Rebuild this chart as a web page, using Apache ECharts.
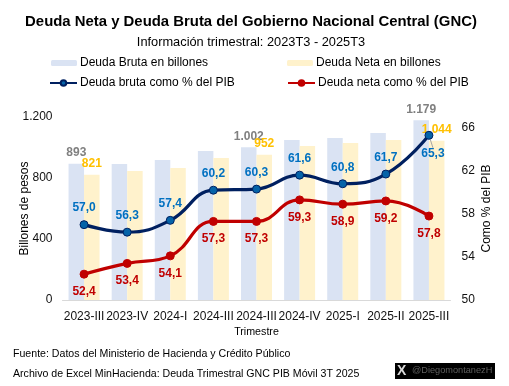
<!DOCTYPE html>
<html lang="es">
<head>
<meta charset="UTF-8">
<title>Deuda GNC</title>
<script src="https://cdn.jsdelivr.net/npm/echarts@6/dist/echarts.min.js"></script>
<style>
  html, body { margin: 0; padding: 0; background: #fff; }
  #chart { width: 509px; height: 386px; }
</style>
</head>
<body>
<div id="chart"></div>
<script>
var categories = ['2023-III', '2023-IV', '2024-I', '2024-III', '2024-III', '2024-IV', '2025-I', '2025-II', '2025-III'];
var deudaBruta = [893, 892, 918, 977, 1002, 1049, 1062, 1095, 1179];
var deudaNeta = [821, 846, 865, 931, 952, 1010, 1030, 1049, 1044];
var brutaPib = [57.0, 56.3, 57.4, 60.2, 60.3, 61.6, 60.8, 61.7, 65.3];
var netaPib = [52.4, 53.4, 54.1, 57.3, 57.3, 59.3, 58.9, 59.2, 57.8];
var barLabelIdx = [0, 4, 8];
var font = '"Liberation Sans", Arial, sans-serif';

// 1.200 / 57,0 formato colombiano
function miles(v) { return String(v).replace(/\B(?=(\d{3})+$)/g, '.'); }
function coma(v) { return v.toFixed(1).replace('.', ','); }

function barSeries(name, vals, color, labelColor) {
  return {
    name: name, type: 'bar', barWidth: 15.5, barGap: 0, z: 1,
    itemStyle: { color: color },
    data: vals.map(function (v, i) {
      return {
        value: v,
        label: {
          show: barLabelIdx.indexOf(i) >= 0, position: 'top', distance: 5,
          color: labelColor, fontFamily: font, fontSize: 12, fontWeight: 'bold',
          formatter: function (p) { return miles(p.value); }
        }
      };
    })
  };
}

function lineSeries(name, vals, lineColor, markColor, labelColor, pos, dist) {
  return {
    name: name, type: 'line', yAxisIndex: 1, smooth: 0.45, z: 3,
    symbol: 'circle', symbolSize: 8,
    lineStyle: { color: lineColor, width: 3.2 },
    itemStyle: { color: markColor, borderColor: lineColor, borderWidth: 1 },
    label: {
      show: true, position: pos, distance: dist,
      color: labelColor, fontFamily: font, fontSize: 12, fontWeight: 'bold',
      formatter: function (p) { return coma(p.value); }
    },
    data: vals
  };
}

var brutaLine = lineSeries('Deuda bruta como % del PIB', brutaPib, '#002060', '#0563A8', '#0070C0', 'top', 6);
// la ultima etiqueta va debajo con linea guia
brutaLine.data = brutaPib.map(function (v, i) {
  return i === 8 ? { value: v, labelLine: { show: true, lineStyle: { color: '#A6A6A6', width: 1 } } } : v;
});
brutaLine.labelLayout = function (p) {
  if (p.dataIndex === 8) return { dx: 4, dy: 35 };
};

var netaLine = lineSeries('Deuda neta como % del PIB', netaPib, '#C00000', '#C00000', '#C00000', 'bottom', 7);

function legendItem(name, left, top, h, w) {
  return {
    left: left, top: top, itemWidth: w, itemHeight: h, padding: 0, itemGap: 0,
    selectedMode: false, data: [name],
    textStyle: { fontFamily: font, fontSize: 12, color: '#000', padding: [0, 0, 0, -2] }
  };
}

var option = {
  animation: false,
  backgroundColor: '#fff',
  title: [
    { text: 'Deuda Neta y Deuda Bruta del Gobierno Nacional Central (GNC)', left: 246, top: 9, textAlign: 'center',
      textStyle: { fontFamily: font, fontSize: 14.9, fontWeight: 'bold', color: '#000' } },
    { text: 'Información trimestral: 2023T3 - 2025T3', left: 246, top: 31, textAlign: 'center',
      textStyle: { fontFamily: font, fontSize: 12.8, fontWeight: 'normal', color: '#000' } }
  ],
  legend: [
    legendItem('Deuda Bruta en billones', 51, 57, 6, 26),
    legendItem('Deuda Neta en billones', 287, 57, 6, 26),
    legendItem('Deuda bruta como % del PIB', 49, 77, 7, 27),
    legendItem('Deuda neta como % del PIB', 287, 77, 7, 27)
  ],
  grid: { left: 62.5, right: 58.5, top: 117, bottom: 86, outerBoundsMode: 'none' },
  xAxis: {
    type: 'category', data: categories,
    name: 'Trimestre', nameLocation: 'middle', nameGap: 27, nameMoveOverlap: false,
    nameTextStyle: { fontFamily: font, fontSize: 10.7, color: '#000' },
    axisTick: { show: false },
    axisLine: { lineStyle: { color: '#D9D9D9', width: 1 } },
    axisLabel: { interval: 0, margin: 11, fontFamily: font, fontSize: 12, color: '#111', hideOverlap: false }
  },
  yAxis: [
    {
      type: 'value', min: 0, max: 1200, interval: 400,
      name: 'Billones de pesos', nameLocation: 'middle', nameGap: 32, nameMoveOverlap: false,
      nameTextStyle: { fontFamily: font, fontSize: 12, color: '#000' },
      splitLine: { show: false }, axisLine: { show: false }, axisTick: { show: false },
      axisLabel: { margin: 10, fontFamily: font, fontSize: 12, color: '#111', formatter: function (v) { return miles(v); } }
    },
    {
      type: 'value', min: 50, max: 67, position: 'right',
      name: 'Como % del PIB', nameLocation: 'middle', nameGap: 30, nameRotate: 90, nameMoveOverlap: false,
      nameTextStyle: { fontFamily: font, fontSize: 12, color: '#000' },
      splitLine: { show: false }, axisLine: { show: false }, axisTick: { show: false },
      axisLabel: { margin: 11, fontFamily: font, fontSize: 12, color: '#111', customValues: [50, 54, 58, 62, 66] }
    }
  ],
  series: [
    barSeries('Deuda Bruta en billones', deudaBruta, '#DAE3F3', '#808080'),
    barSeries('Deuda Neta en billones', deudaNeta, '#FFF2CC', '#FFC000'),
    brutaLine,
    netaLine
  ],
  graphic: [
    { type: 'text', left: 13, top: 349, style: { text: 'Fuente: Datos del Ministerio de Hacienda y Crédito Público', fontFamily: font, fontSize: 10.6, fill: '#000' } },
    { type: 'text', left: 13, top: 369, style: { text: 'Archivo de Excel MinHacienda: Deuda Trimestral GNC PIB Móvil 3T 2025', fontFamily: font, fontSize: 10.6, fill: '#000' } },
    { type: 'rect', left: 395, top: 363, shape: { width: 100, height: 16 }, style: { fill: '#000' } },
    { type: 'text', left: 397, top: 364, style: { text: 'X', fontFamily: font, fontSize: 14, fontWeight: 'bold', fill: '#D9D9D9' } },
    { type: 'text', left: 412, top: 366, style: { text: '@DiegomontanezH', fontFamily: font, fontSize: 9.2, fill: '#5F5F5F' } }
  ]
};

echarts.init(document.getElementById('chart')).setOption(option);
</script>
</body>
</html>
